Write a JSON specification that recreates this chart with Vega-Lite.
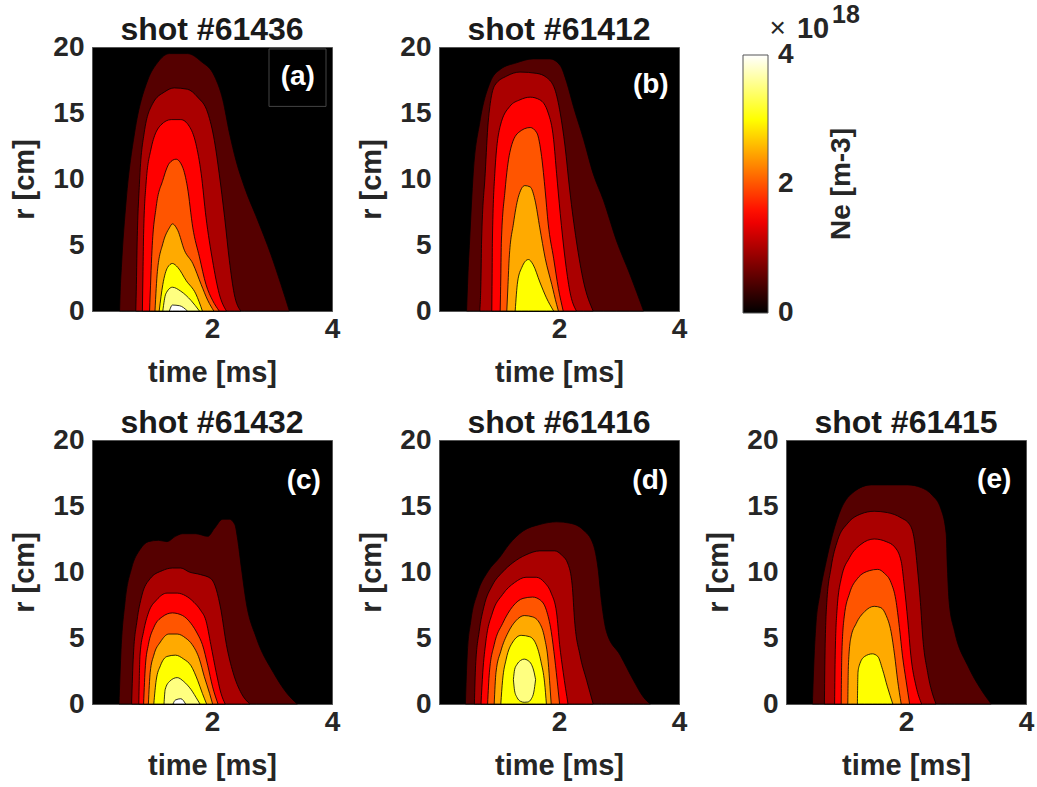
{
"$schema": "https://vega.github.io/schema/vega-lite/v6.json",
"background": "white",
"padding": {"left": 10, "top": 2, "right": 5, "bottom": 0},
"datasets": {
"a": [
{"level":0.5,"t":0.46,"r":0,"r0":0},{"level":0.5,"t":0.47,"r":1.5,"r0":0},{"level":0.5,"t":0.49,"r":3.3,"r0":0},{"level":0.5,"t":0.57,"r":8.4,"r0":0},{"level":0.5,"t":0.71,"r":13.5,"r0":0},{"level":0.5,"t":0.93,"r":17.5,"r0":0},{"level":0.5,"t":1.09,"r":18.8,"r0":0},{"level":0.5,"t":1.29,"r":19.5,"r0":0},{"level":0.5,"t":1.59,"r":19.5,"r0":0},{"level":0.5,"t":1.82,"r":18.9,"r0":0},{"level":0.5,"t":2.04,"r":17.8,"r0":0},{"level":0.5,"t":2.18,"r":16,"r0":0},{"level":0.5,"t":2.29,"r":13.5,"r0":0},{"level":0.5,"t":2.4,"r":11.4,"r0":0},{"level":0.5,"t":2.54,"r":9.4,"r0":0},{"level":0.5,"t":2.76,"r":6.9,"r0":0},{"level":0.5,"t":2.98,"r":4.3,"r0":0},{"level":0.5,"t":3.15,"r":2.0,"r0":0},{"level":0.5,"t":3.29,"r":0,"r0":0},
{"level":1.0,"t":0.73,"r":0,"r0":0},{"level":1.0,"t":0.74,"r":2,"r0":0},{"level":1.0,"t":0.75,"r":4.6,"r0":0},{"level":1.0,"t":0.79,"r":9.6,"r0":0},{"level":1.0,"t":0.87,"r":13.5,"r0":0},{"level":1.0,"t":1.01,"r":15.7,"r0":0},{"level":1.0,"t":1.21,"r":16.6,"r0":0},{"level":1.0,"t":1.37,"r":16.9,"r0":0},{"level":1.0,"t":1.59,"r":16.8,"r0":0},{"level":1.0,"t":1.76,"r":16.2,"r0":0},{"level":1.0,"t":1.93,"r":15.0,"r0":0},{"level":1.0,"t":2.04,"r":12.9,"r0":0},{"level":1.0,"t":2.12,"r":10.4,"r0":0},{"level":1.0,"t":2.21,"r":7.1,"r0":0},{"level":1.0,"t":2.29,"r":3.8,"r0":0},{"level":1.0,"t":2.37,"r":1.3,"r0":0},{"level":1.0,"t":2.48,"r":0,"r0":0},
{"level":1.5,"t":0.84,"r":0,"r0":0},{"level":1.5,"t":0.85,"r":3,"r0":0},{"level":1.5,"t":0.86,"r":5.8,"r0":0},{"level":1.5,"t":0.9,"r":9.6,"r0":0},{"level":1.5,"t":0.98,"r":12.2,"r0":0},{"level":1.5,"t":1.15,"r":14.1,"r0":0},{"level":1.5,"t":1.32,"r":14.5,"r0":0},{"level":1.5,"t":1.48,"r":14.5,"r0":0},{"level":1.5,"t":1.62,"r":14.0,"r0":0},{"level":1.5,"t":1.73,"r":12.7,"r0":0},{"level":1.5,"t":1.82,"r":10.4,"r0":0},{"level":1.5,"t":1.9,"r":7.1,"r0":0},{"level":1.5,"t":2.01,"r":3.8,"r0":0},{"level":1.5,"t":2.12,"r":1.3,"r0":0},{"level":1.5,"t":2.24,"r":0,"r0":0},
{"level":2.0,"t":0.96,"r":0,"r0":0},{"level":2.0,"t":0.98,"r":2.5,"r0":0},{"level":2.0,"t":1.0,"r":4.6,"r0":0},{"level":2.0,"t":1.07,"r":7.9,"r0":0},{"level":2.0,"t":1.18,"r":9.9,"r0":0},{"level":2.0,"t":1.29,"r":11.2,"r0":0},{"level":2.0,"t":1.4,"r":11.5,"r0":0},{"level":2.0,"t":1.51,"r":10.9,"r0":0},{"level":2.0,"t":1.59,"r":9.4,"r0":0},{"level":2.0,"t":1.68,"r":6.3,"r0":0},{"level":2.0,"t":1.79,"r":4.1,"r0":0},{"level":2.0,"t":1.9,"r":2.0,"r0":0},{"level":2.0,"t":2.01,"r":0.8,"r0":0},{"level":2.0,"t":2.12,"r":0,"r0":0},
{"level":2.5,"t":1.05,"r":0,"r0":0},{"level":2.5,"t":1.09,"r":3.0,"r0":0},{"level":2.5,"t":1.18,"r":5.1,"r0":0},{"level":2.5,"t":1.29,"r":6.3,"r0":0},{"level":2.5,"t":1.34,"r":6.6,"r0":0},{"level":2.5,"t":1.43,"r":6.1,"r0":0},{"level":2.5,"t":1.54,"r":4.6,"r0":0},{"level":2.5,"t":1.68,"r":3.6,"r0":0},{"level":2.5,"t":1.82,"r":2.0,"r0":0},{"level":2.5,"t":1.93,"r":0.8,"r0":0},{"level":2.5,"t":2.03,"r":0,"r0":0},
{"level":3.0,"t":1.12,"r":0,"r0":0},{"level":3.0,"t":1.18,"r":2.0,"r0":0},{"level":3.0,"t":1.26,"r":3.3,"r0":0},{"level":3.0,"t":1.34,"r":3.6,"r0":0},{"level":3.0,"t":1.43,"r":3.3,"r0":0},{"level":3.0,"t":1.57,"r":2.3,"r0":0},{"level":3.0,"t":1.73,"r":1.3,"r0":0},{"level":3.0,"t":1.84,"r":0,"r0":0},
{"level":3.5,"t":1.18,"r":0,"r0":0},{"level":3.5,"t":1.23,"r":1.3,"r0":0},{"level":3.5,"t":1.34,"r":1.8,"r0":0},{"level":3.5,"t":1.48,"r":1.5,"r0":0},{"level":3.5,"t":1.65,"r":0.8,"r0":0},{"level":3.5,"t":1.79,"r":0,"r0":0},
{"level":4.0,"t":1.29,"r":0,"r0":0},{"level":4.0,"t":1.34,"r":0.45,"r0":0},{"level":4.0,"t":1.46,"r":0.4,"r0":0},{"level":4.0,"t":1.59,"r":0,"r0":0}
],
"b": [
{"level":0.5,"t":0.46,"r":0,"r0":0},{"level":0.5,"t":0.48,"r":2.5,"r0":0},{"level":0.5,"t":0.51,"r":5.3,"r0":0},{"level":0.5,"t":0.57,"r":10.4,"r0":0},{"level":0.5,"t":0.68,"r":14.3,"r0":0},{"level":0.5,"t":0.85,"r":17.3,"r0":0},{"level":0.5,"t":1.02,"r":18.3,"r0":0},{"level":0.5,"t":1.29,"r":18.8,"r0":0},{"level":0.5,"t":1.57,"r":19.1,"r0":0},{"level":0.5,"t":1.85,"r":19.1,"r0":0},{"level":0.5,"t":2.02,"r":18.6,"r0":0},{"level":0.5,"t":2.13,"r":17.3,"r0":0},{"level":0.5,"t":2.24,"r":15.5,"r0":0},{"level":0.5,"t":2.41,"r":13.0,"r0":0},{"level":0.5,"t":2.57,"r":10.4,"r0":0},{"level":0.5,"t":2.74,"r":8.4,"r0":0},{"level":0.5,"t":2.96,"r":5.3,"r0":0},{"level":0.5,"t":3.18,"r":2.8,"r0":0},{"level":0.5,"t":3.41,"r":0,"r0":0},
{"level":1.0,"t":0.68,"r":0,"r0":0},{"level":1.0,"t":0.7,"r":2.5,"r0":0},{"level":1.0,"t":0.71,"r":5.3,"r0":0},{"level":1.0,"t":0.77,"r":10.4,"r0":0},{"level":1.0,"t":0.82,"r":14.3,"r0":0},{"level":1.0,"t":0.93,"r":17.1,"r0":0},{"level":1.0,"t":1.13,"r":17.8,"r0":0},{"level":1.0,"t":1.35,"r":18.1,"r0":0},{"level":1.0,"t":1.63,"r":18.0,"r0":0},{"level":1.0,"t":1.79,"r":17.7,"r0":0},{"level":1.0,"t":1.93,"r":16.8,"r0":0},{"level":1.0,"t":2.02,"r":15.0,"r0":0},{"level":1.0,"t":2.1,"r":12.5,"r0":0},{"level":1.0,"t":2.18,"r":9.1,"r0":0},{"level":1.0,"t":2.29,"r":5.3,"r0":0},{"level":1.0,"t":2.41,"r":2.2,"r0":0},{"level":1.0,"t":2.57,"r":0,"r0":0},
{"level":1.5,"t":0.88,"r":0,"r0":0},{"level":1.5,"t":0.885,"r":2.5,"r0":0},{"level":1.5,"t":0.89,"r":5.3,"r0":0},{"level":1.5,"t":0.93,"r":10.4,"r0":0},{"level":1.5,"t":1.02,"r":14.0,"r0":0},{"level":1.5,"t":1.18,"r":15.5,"r0":0},{"level":1.5,"t":1.35,"r":16.0,"r0":0},{"level":1.5,"t":1.52,"r":16.2,"r0":0},{"level":1.5,"t":1.68,"r":16.0,"r0":0},{"level":1.5,"t":1.82,"r":15.0,"r0":0},{"level":1.5,"t":1.91,"r":13.0,"r0":0},{"level":1.5,"t":1.96,"r":10.4,"r0":0},{"level":1.5,"t":2.02,"r":7.4,"r0":0},{"level":1.5,"t":2.1,"r":4.0,"r0":0},{"level":1.5,"t":2.18,"r":1.5,"r0":0},{"level":1.5,"t":2.29,"r":0,"r0":0},
{"level":2.0,"t":1.02,"r":0,"r0":0},{"level":2.0,"t":1.03,"r":2.5,"r0":0},{"level":2.0,"t":1.04,"r":5.3,"r0":0},{"level":2.0,"t":1.1,"r":9.1,"r0":0},{"level":2.0,"t":1.18,"r":12.0,"r0":0},{"level":2.0,"t":1.32,"r":13.5,"r0":0},{"level":2.0,"t":1.52,"r":13.9,"r0":0},{"level":2.0,"t":1.63,"r":13.5,"r0":0},{"level":2.0,"t":1.71,"r":11.7,"r0":0},{"level":2.0,"t":1.77,"r":9.1,"r0":0},{"level":2.0,"t":1.82,"r":6.6,"r0":0},{"level":2.0,"t":1.91,"r":4.0,"r0":0},{"level":2.0,"t":1.99,"r":1.7,"r0":0},{"level":2.0,"t":2.07,"r":0,"r0":0},
{"level":2.5,"t":1.13,"r":0,"r0":0},{"level":2.5,"t":1.15,"r":2,"r0":0},{"level":2.5,"t":1.17,"r":4.0,"r0":0},{"level":2.5,"t":1.24,"r":6.6,"r0":0},{"level":2.5,"t":1.32,"r":8.6,"r0":0},{"level":2.5,"t":1.43,"r":9.5,"r0":0},{"level":2.5,"t":1.52,"r":9.4,"r0":0},{"level":2.5,"t":1.6,"r":8.4,"r0":0},{"level":2.5,"t":1.68,"r":6.3,"r0":0},{"level":2.5,"t":1.77,"r":4.0,"r0":0},{"level":2.5,"t":1.88,"r":2.0,"r0":0},{"level":2.5,"t":1.96,"r":0.5,"r0":0},{"level":2.5,"t":1.99,"r":0,"r0":0},
{"level":3.0,"t":1.27,"r":0,"r0":0},{"level":3.0,"t":1.31,"r":2.2,"r0":0},{"level":3.0,"t":1.38,"r":3.3,"r0":0},{"level":3.0,"t":1.49,"r":3.9,"r0":0},{"level":3.0,"t":1.57,"r":3.5,"r0":0},{"level":3.0,"t":1.68,"r":2.2,"r0":0},{"level":3.0,"t":1.79,"r":1.0,"r0":0},{"level":3.0,"t":1.91,"r":0,"r0":0}
],
"c": [
{"level":0.5,"t":0.45,"r":0,"r0":0},{"level":0.5,"t":0.48,"r":3.7,"r0":0},{"level":0.5,"t":0.55,"r":7.7,"r0":0},{"level":0.5,"t":0.66,"r":10.3,"r0":0},{"level":0.5,"t":0.8,"r":11.7,"r0":0},{"level":0.5,"t":0.94,"r":12.3,"r0":0},{"level":0.5,"t":1.11,"r":12.4,"r0":0},{"level":0.5,"t":1.25,"r":12.3,"r0":0},{"level":0.5,"t":1.39,"r":12.7,"r0":0},{"level":0.5,"t":1.51,"r":12.9,"r0":0},{"level":0.5,"t":1.73,"r":12.9,"r0":0},{"level":0.5,"t":1.93,"r":12.7,"r0":0},{"level":0.5,"t":2.04,"r":13.3,"r0":0},{"level":0.5,"t":2.18,"r":14.0,"r0":0},{"level":0.5,"t":2.29,"r":14.0,"r0":0},{"level":0.5,"t":2.38,"r":13.6,"r0":0},{"level":0.5,"t":2.43,"r":12.4,"r0":0},{"level":0.5,"t":2.49,"r":10.3,"r0":0},{"level":0.5,"t":2.57,"r":7.7,"r0":0},{"level":0.5,"t":2.74,"r":5.0,"r0":0},{"level":0.5,"t":3.02,"r":2.4,"r0":0},{"level":0.5,"t":3.25,"r":0.8,"r0":0},{"level":0.5,"t":3.42,"r":0,"r0":0},
{"level":1.0,"t":0.66,"r":0,"r0":0},{"level":1.0,"t":0.69,"r":3.7,"r0":0},{"level":1.0,"t":0.75,"r":6.3,"r0":0},{"level":1.0,"t":0.83,"r":8.2,"r0":0},{"level":1.0,"t":0.97,"r":9.5,"r0":0},{"level":1.0,"t":1.17,"r":10.1,"r0":0},{"level":1.0,"t":1.34,"r":10.3,"r0":0},{"level":1.0,"t":1.48,"r":10.3,"r0":0},{"level":1.0,"t":1.62,"r":10.0,"r0":0},{"level":1.0,"t":1.81,"r":9.8,"r0":0},{"level":1.0,"t":1.98,"r":9.5,"r0":0},{"level":1.0,"t":2.07,"r":8.7,"r0":0},{"level":1.0,"t":2.15,"r":7.1,"r0":0},{"level":1.0,"t":2.24,"r":4.5,"r0":0},{"level":1.0,"t":2.35,"r":2.4,"r0":0},{"level":1.0,"t":2.49,"r":0.8,"r0":0},{"level":1.0,"t":2.63,"r":0,"r0":0},
{"level":1.5,"t":0.78,"r":0,"r0":0},{"level":1.5,"t":0.8,"r":3.7,"r0":0},{"level":1.5,"t":0.86,"r":5.5,"r0":0},{"level":1.5,"t":0.94,"r":6.9,"r0":0},{"level":1.5,"t":1.08,"r":7.9,"r0":0},{"level":1.5,"t":1.25,"r":8.4,"r0":0},{"level":1.5,"t":1.42,"r":8.4,"r0":0},{"level":1.5,"t":1.56,"r":8.2,"r0":0},{"level":1.5,"t":1.7,"r":7.7,"r0":0},{"level":1.5,"t":1.81,"r":7.1,"r0":0},{"level":1.5,"t":1.9,"r":6.3,"r0":0},{"level":1.5,"t":1.98,"r":4.5,"r0":0},{"level":1.5,"t":2.07,"r":2.4,"r0":0},{"level":1.5,"t":2.15,"r":0.8,"r0":0},{"level":1.5,"t":2.22,"r":0,"r0":0},
{"level":2.0,"t":0.86,"r":0,"r0":0},{"level":2.0,"t":0.89,"r":2.9,"r0":0},{"level":2.0,"t":0.94,"r":4.5,"r0":0},{"level":2.0,"t":1.03,"r":5.8,"r0":0},{"level":2.0,"t":1.17,"r":6.6,"r0":0},{"level":2.0,"t":1.34,"r":6.9,"r0":0},{"level":2.0,"t":1.51,"r":6.7,"r0":0},{"level":2.0,"t":1.65,"r":6.1,"r0":0},{"level":2.0,"t":1.76,"r":5.3,"r0":0},{"level":2.0,"t":1.84,"r":4.5,"r0":0},{"level":2.0,"t":1.93,"r":2.9,"r0":0},{"level":2.0,"t":2.01,"r":1.3,"r0":0},{"level":2.0,"t":2.1,"r":0,"r0":0},
{"level":2.5,"t":0.94,"r":0,"r0":0},{"level":2.5,"t":0.97,"r":2.4,"r0":0},{"level":2.5,"t":1.03,"r":3.7,"r0":0},{"level":2.5,"t":1.14,"r":4.7,"r0":0},{"level":2.5,"t":1.28,"r":5.3,"r0":0},{"level":2.5,"t":1.42,"r":5.3,"r0":0},{"level":2.5,"t":1.56,"r":5.0,"r0":0},{"level":2.5,"t":1.67,"r":4.5,"r0":0},{"level":2.5,"t":1.79,"r":3.4,"r0":0},{"level":2.5,"t":1.87,"r":2.1,"r0":0},{"level":2.5,"t":1.96,"r":0.8,"r0":0},{"level":2.5,"t":2.01,"r":0,"r0":0},
{"level":3.0,"t":1.03,"r":0,"r0":0},{"level":3.0,"t":1.07,"r":1.8,"r0":0},{"level":3.0,"t":1.14,"r":2.9,"r0":0},{"level":3.0,"t":1.25,"r":3.6,"r0":0},{"level":3.0,"t":1.39,"r":3.7,"r0":0},{"level":3.0,"t":1.53,"r":3.4,"r0":0},{"level":3.0,"t":1.65,"r":2.9,"r0":0},{"level":3.0,"t":1.76,"r":1.8,"r0":0},{"level":3.0,"t":1.84,"r":0.8,"r0":0},{"level":3.0,"t":1.91,"r":0,"r0":0},
{"level":3.5,"t":1.2,"r":0,"r0":0},{"level":3.5,"t":1.22,"r":1.1,"r0":0},{"level":3.5,"t":1.29,"r":1.7,"r0":0},{"level":3.5,"t":1.42,"r":2.0,"r0":0},{"level":3.5,"t":1.53,"r":1.7,"r0":0},{"level":3.5,"t":1.65,"r":1.1,"r0":0},{"level":3.5,"t":1.76,"r":0.3,"r0":0},{"level":3.5,"t":1.8,"r":0,"r0":0},
{"level":4.0,"t":1.35,"r":0,"r0":0},{"level":4.0,"t":1.39,"r":0.3,"r0":0},{"level":4.0,"t":1.48,"r":0.4,"r0":0},{"level":4.0,"t":1.56,"r":0,"r0":0}
],
"d": [
{"level":0.5,"t":0.44,"r":0,"r0":0},{"level":0.5,"t":0.47,"r":3.7,"r0":0},{"level":0.5,"t":0.53,"r":6.3,"r0":0},{"level":0.5,"t":0.64,"r":8.4,"r0":0},{"level":0.5,"t":0.81,"r":10.0,"r0":0},{"level":0.5,"t":1.01,"r":11.1,"r0":0},{"level":0.5,"t":1.17,"r":12.1,"r0":0},{"level":0.5,"t":1.4,"r":13.1,"r0":0},{"level":0.5,"t":1.68,"r":13.6,"r0":0},{"level":0.5,"t":1.96,"r":13.8,"r0":0},{"level":0.5,"t":2.18,"r":13.7,"r0":0},{"level":0.5,"t":2.4,"r":13.2,"r0":0},{"level":0.5,"t":2.57,"r":12.1,"r0":0},{"level":0.5,"t":2.65,"r":10.3,"r0":0},{"level":0.5,"t":2.71,"r":7.7,"r0":0},{"level":0.5,"t":2.79,"r":5.5,"r0":0},{"level":0.5,"t":3.02,"r":3.7,"r0":0},{"level":0.5,"t":3.24,"r":1.8,"r0":0},{"level":0.5,"t":3.41,"r":0.5,"r0":0},{"level":0.5,"t":3.52,"r":0,"r0":0},
{"level":1.0,"t":0.59,"r":0,"r0":0},{"level":1.0,"t":0.61,"r":2.9,"r0":0},{"level":1.0,"t":0.67,"r":5.5,"r0":0},{"level":1.0,"t":0.75,"r":7.4,"r0":0},{"level":1.0,"t":0.89,"r":9.0,"r0":0},{"level":1.0,"t":1.06,"r":10.0,"r0":0},{"level":1.0,"t":1.23,"r":10.7,"r0":0},{"level":1.0,"t":1.45,"r":11.3,"r0":0},{"level":1.0,"t":1.68,"r":11.6,"r0":0},{"level":1.0,"t":1.93,"r":11.6,"r0":0},{"level":1.0,"t":2.04,"r":11.3,"r0":0},{"level":1.0,"t":2.15,"r":10.6,"r0":0},{"level":1.0,"t":2.22,"r":9.0,"r0":0},{"level":1.0,"t":2.26,"r":6.3,"r0":0},{"level":1.0,"t":2.35,"r":3.7,"r0":0},{"level":1.0,"t":2.46,"r":1.8,"r0":0},{"level":1.0,"t":2.57,"r":0,"r0":0},
{"level":1.5,"t":0.7,"r":0,"r0":0},{"level":1.5,"t":0.73,"r":2.4,"r0":0},{"level":1.5,"t":0.78,"r":4.7,"r0":0},{"level":1.5,"t":0.89,"r":6.9,"r0":0},{"level":1.5,"t":1.06,"r":8.3,"r0":0},{"level":1.5,"t":1.26,"r":9.2,"r0":0},{"level":1.5,"t":1.45,"r":9.6,"r0":0},{"level":1.5,"t":1.62,"r":9.6,"r0":0},{"level":1.5,"t":1.76,"r":9.2,"r0":0},{"level":1.5,"t":1.87,"r":8.4,"r0":0},{"level":1.5,"t":1.96,"r":6.9,"r0":0},{"level":1.5,"t":2.01,"r":4.5,"r0":0},{"level":1.5,"t":2.07,"r":2.4,"r0":0},{"level":1.5,"t":2.15,"r":0,"r0":0},
{"level":2.0,"t":0.81,"r":0,"r0":0},{"level":2.0,"t":0.84,"r":2.4,"r0":0},{"level":2.0,"t":0.92,"r":4.5,"r0":0},{"level":2.0,"t":1.06,"r":6.1,"r0":0},{"level":2.0,"t":1.23,"r":7.4,"r0":0},{"level":2.0,"t":1.4,"r":8.0,"r0":0},{"level":2.0,"t":1.56,"r":8.1,"r0":0},{"level":2.0,"t":1.68,"r":7.9,"r0":0},{"level":2.0,"t":1.79,"r":7.1,"r0":0},{"level":2.0,"t":1.87,"r":5.5,"r0":0},{"level":2.0,"t":1.93,"r":3.4,"r0":0},{"level":2.0,"t":1.98,"r":1.3,"r0":0},{"level":2.0,"t":2.01,"r":0,"r0":0},
{"level":2.5,"t":0.92,"r":0,"r0":0},{"level":2.5,"t":0.95,"r":2.4,"r0":0},{"level":2.5,"t":1.03,"r":4.0,"r0":0},{"level":2.5,"t":1.15,"r":5.4,"r0":0},{"level":2.5,"t":1.28,"r":6.3,"r0":0},{"level":2.5,"t":1.42,"r":6.7,"r0":0},{"level":2.5,"t":1.56,"r":6.6,"r0":0},{"level":2.5,"t":1.68,"r":6.1,"r0":0},{"level":2.5,"t":1.76,"r":5.0,"r0":0},{"level":2.5,"t":1.82,"r":3.2,"r0":0},{"level":2.5,"t":1.85,"r":1.3,"r0":0},{"level":2.5,"t":1.87,"r":0,"r0":0},
{"level":3.0,"t":1.03,"r":0,"r0":0},{"level":3.0,"t":1.06,"r":1.8,"r0":0},{"level":3.0,"t":1.12,"r":3.4,"r0":0},{"level":3.0,"t":1.23,"r":4.7,"r0":0},{"level":3.0,"t":1.37,"r":5.2,"r0":0},{"level":3.0,"t":1.51,"r":5.1,"r0":0},{"level":3.0,"t":1.62,"r":4.5,"r0":0},{"level":3.0,"t":1.7,"r":3.2,"r0":0},{"level":3.0,"t":1.76,"r":1.6,"r0":0},{"level":3.0,"t":1.79,"r":0,"r0":0},
{"level":3.5,"t":1.24,"r":1.85,"r0":1.85},{"level":3.5,"t":1.26,"r":2.6,"r0":1.0},{"level":3.5,"t":1.3,"r":3.0,"r0":0.5},{"level":3.5,"t":1.36,"r":3.3,"r0":0.2},{"level":3.5,"t":1.42,"r":3.4,"r0":0.13},{"level":3.5,"t":1.48,"r":3.3,"r0":0.15},{"level":3.5,"t":1.54,"r":3.0,"r0":0.4},{"level":3.5,"t":1.58,"r":2.5,"r0":0.9},{"level":3.5,"t":1.61,"r":1.85,"r0":1.85}
],
"e": [
{"level":0.5,"t":0.44,"r":0,"r0":0},{"level":0.5,"t":0.47,"r":3.7,"r0":0},{"level":0.5,"t":0.5,"r":6.1,"r0":0},{"level":0.5,"t":0.56,"r":8.2,"r0":0},{"level":0.5,"t":0.67,"r":10.8,"r0":0},{"level":0.5,"t":0.78,"r":12.9,"r0":0},{"level":0.5,"t":0.92,"r":14.8,"r0":0},{"level":0.5,"t":1.14,"r":16.1,"r0":0},{"level":0.5,"t":1.42,"r":16.6,"r0":0},{"level":0.5,"t":1.69,"r":16.6,"r0":0},{"level":0.5,"t":2.03,"r":16.6,"r0":0},{"level":0.5,"t":2.25,"r":16.4,"r0":0},{"level":0.5,"t":2.44,"r":15.8,"r0":0},{"level":0.5,"t":2.58,"r":14.8,"r0":0},{"level":0.5,"t":2.67,"r":12.9,"r0":0},{"level":0.5,"t":2.69,"r":10.3,"r0":0},{"level":0.5,"t":2.72,"r":7.7,"r0":0},{"level":0.5,"t":2.81,"r":5.5,"r0":0},{"level":0.5,"t":3.03,"r":2.9,"r0":0},{"level":0.5,"t":3.25,"r":1.1,"r0":0},{"level":0.5,"t":3.42,"r":0,"r0":0},
{"level":1.0,"t":0.64,"r":0,"r0":0},{"level":1.0,"t":0.65,"r":3.7,"r0":0},{"level":1.0,"t":0.68,"r":7.7,"r0":0},{"level":1.0,"t":0.75,"r":10.3,"r0":0},{"level":1.0,"t":0.86,"r":12.4,"r0":0},{"level":1.0,"t":1.03,"r":13.7,"r0":0},{"level":1.0,"t":1.25,"r":14.4,"r0":0},{"level":1.0,"t":1.47,"r":14.6,"r0":0},{"level":1.0,"t":1.69,"r":14.5,"r0":0},{"level":1.0,"t":1.92,"r":14.1,"r0":0},{"level":1.0,"t":2.06,"r":13.6,"r0":0},{"level":1.0,"t":2.14,"r":12.4,"r0":0},{"level":1.0,"t":2.19,"r":10.3,"r0":0},{"level":1.0,"t":2.24,"r":7.7,"r0":0},{"level":1.0,"t":2.28,"r":5.0,"r0":0},{"level":1.0,"t":2.36,"r":2.4,"r0":0},{"level":1.0,"t":2.5,"r":0,"r0":0},
{"level":1.5,"t":0.81,"r":0,"r0":0},{"level":1.5,"t":0.82,"r":3.7,"r0":0},{"level":1.5,"t":0.85,"r":7.1,"r0":0},{"level":1.5,"t":0.92,"r":9.5,"r0":0},{"level":1.5,"t":1.06,"r":11.1,"r0":0},{"level":1.5,"t":1.25,"r":12.1,"r0":0},{"level":1.5,"t":1.47,"r":12.5,"r0":0},{"level":1.5,"t":1.67,"r":12.3,"r0":0},{"level":1.5,"t":1.81,"r":11.9,"r0":0},{"level":1.5,"t":1.92,"r":10.8,"r0":0},{"level":1.5,"t":1.97,"r":9.0,"r0":0},{"level":1.5,"t":2.03,"r":6.3,"r0":0},{"level":1.5,"t":2.08,"r":3.7,"r0":0},{"level":1.5,"t":2.17,"r":1.3,"r0":0},{"level":1.5,"t":2.26,"r":0,"r0":0},
{"level":2.0,"t":0.92,"r":0,"r0":0},{"level":2.0,"t":0.93,"r":3.7,"r0":0},{"level":2.0,"t":0.97,"r":6.6,"r0":0},{"level":2.0,"t":1.06,"r":8.4,"r0":0},{"level":2.0,"t":1.19,"r":9.5,"r0":0},{"level":2.0,"t":1.39,"r":10.1,"r0":0},{"level":2.0,"t":1.53,"r":10.2,"r0":0},{"level":2.0,"t":1.64,"r":9.9,"r0":0},{"level":2.0,"t":1.75,"r":9.2,"r0":0},{"level":2.0,"t":1.83,"r":7.9,"r0":0},{"level":2.0,"t":1.89,"r":5.8,"r0":0},{"level":2.0,"t":1.94,"r":3.7,"r0":0},{"level":2.0,"t":2.0,"r":1.8,"r0":0},{"level":2.0,"t":2.06,"r":0,"r0":0},
{"level":2.5,"t":1.03,"r":0,"r0":0},{"level":2.5,"t":1.04,"r":2.9,"r0":0},{"level":2.5,"t":1.08,"r":5.0,"r0":0},{"level":2.5,"t":1.17,"r":6.1,"r0":0},{"level":2.5,"t":1.31,"r":7.0,"r0":0},{"level":2.5,"t":1.47,"r":7.4,"r0":0},{"level":2.5,"t":1.58,"r":7.3,"r0":0},{"level":2.5,"t":1.67,"r":6.7,"r0":0},{"level":2.5,"t":1.75,"r":5.5,"r0":0},{"level":2.5,"t":1.81,"r":3.7,"r0":0},{"level":2.5,"t":1.86,"r":1.8,"r0":0},{"level":2.5,"t":1.92,"r":0,"r0":0},
{"level":3.0,"t":1.19,"r":0,"r0":0},{"level":3.0,"t":1.2,"r":2.4,"r0":0},{"level":3.0,"t":1.22,"r":2.9,"r0":0},{"level":3.0,"t":1.31,"r":3.6,"r0":0},{"level":3.0,"t":1.44,"r":3.8,"r0":0},{"level":3.0,"t":1.53,"r":3.6,"r0":0},{"level":3.0,"t":1.61,"r":2.6,"r0":0},{"level":3.0,"t":1.69,"r":1.3,"r0":0},{"level":3.0,"t":1.78,"r":0,"r0":0}
]
},
"columns": 3,
"spacing": {"row": 129, "column": 107},
"bounds": "flush",
"concat": [
{"width": 240, "height": 264, "title": "shot #61436",
 "layer": [
  {"data": {"name": "a"}, "mark": {"type": "area", "interpolate": "monotone", "stroke": "black", "strokeWidth": 0.8},
   "encoding": {
    "x": {"field": "t", "type": "quantitative", "scale": {"domain": [0, 4]}, "axis": {"values": [2, 4], "format": "~g", "title": "time [ms]"}},
    "y": {"field": "r", "type": "quantitative", "stack": null, "scale": {"domain": [0, 20]}, "axis": {"values": [0, 5, 10, 15, 20], "title": "r [cm]"}},
    "y2": {"field": "r0"},
    "detail": {"field": "level", "type": "nominal"},
    "color": {"field": "level", "type": "quantitative", "title": "Ne [m-3]",
      "scale": {"domain": [0, 1.5, 3, 4], "range": ["#000000", "#ff0000", "#ffff00", "#ffffff"], "interpolate": "rgb"},
      "legend": {"orient": "none", "legendX": 651, "legendY": 8, "direction": "vertical", "gradientLength": 258, "gradientThickness": 25, "gradientStrokeColor": "#555", "gradientStrokeWidth": 1, "values": [0, 2, 4], "labelFont": "Liberation Sans", "labelFontSize": 28, "labelFontWeight": "bold", "labelColor": "#262626", "labelOffset": 10, "titleOrient": "right", "titleFont": "Liberation Sans", "titleFontSize": 28, "titleFontWeight": "bold", "titleColor": "#262626", "titleAnchor": "middle", "titlePadding": 34, "padding": 0,
        "encode": {"labels": {"update": {"baseline": {"value": "middle"}}}, "title": {"update": {"angle": {"value": 270}, "baseline": {"value": "top"}}}}}}
   }},
  {"data": {"values": [{"t0": 2.95, "t1": 3.9, "r0": 15.5, "r1": 19.85}]}, "mark": {"type": "rect", "fill": "black", "stroke": "#444", "strokeWidth": 1},
   "encoding": {"x": {"field": "t0", "type": "quantitative", "scale": {"domain": [0, 4]}}, "x2": {"field": "t1"}, "y": {"field": "r0", "type": "quantitative", "scale": {"domain": [0, 20]}}, "y2": {"field": "r1"}}},
  {"data": {"values": [{"lab": "(a)", "t": 3.43, "r": 17.7}]}, "mark": {"type": "text", "color": "white", "font": "Liberation Sans", "fontWeight": "bold", "fontSize": 28},
   "encoding": {"x": {"field": "t", "type": "quantitative", "scale": {"domain": [0, 4]}}, "y": {"field": "r", "type": "quantitative", "scale": {"domain": [0, 20]}}, "text": {"field": "lab"}}}
 ]},
{"width": 240, "height": 264, "title": "shot #61412",
 "layer": [
  {"data": {"name": "b"}, "mark": {"type": "area", "interpolate": "monotone", "stroke": "black", "strokeWidth": 0.8},
   "encoding": {
    "x": {"field": "t", "type": "quantitative", "scale": {"domain": [0, 4]}, "axis": {"values": [2, 4], "format": "~g", "title": "time [ms]"}},
    "y": {"field": "r", "type": "quantitative", "stack": null, "scale": {"domain": [0, 20]}, "axis": {"values": [0, 5, 10, 15, 20], "title": "r [cm]"}},
    "y2": {"field": "r0"},
    "detail": {"field": "level", "type": "nominal"},
    "color": {"field": "level", "type": "quantitative", "title": "Ne [m-3]", "scale": {"domain": [0, 1.5, 3, 4], "range": ["#000000", "#ff0000", "#ffff00", "#ffffff"], "interpolate": "rgb"}, "legend": null}
   }},
  {"data": {"values": [{"lab": "(b)", "t": 3.53, "r": 17.1}]}, "mark": {"type": "text", "color": "white", "font": "Liberation Sans", "fontWeight": "bold", "fontSize": 28},
   "encoding": {"x": {"field": "t", "type": "quantitative", "scale": {"domain": [0, 4]}}, "y": {"field": "r", "type": "quantitative", "scale": {"domain": [0, 20]}}, "text": {"field": "lab"}}}
 ]},
{"width": 240, "height": 264, "view": {"fill": null, "stroke": null},
 "layer": [
  {"data": {"values": [{"lab": "×", "t": -0.14, "r": 21.35}]}, "mark": {"type": "text", "color": "#262626", "font": "Liberation Sans", "fontWeight": "normal", "fontSize": 28},
   "encoding": {"x": {"field": "t", "type": "quantitative", "scale": {"domain": [0, 4]}, "axis": null}, "y": {"field": "r", "type": "quantitative", "scale": {"domain": [0, 20]}, "axis": null}, "text": {"field": "lab"}}},
  {"data": {"values": [{"lab": "10", "t": 0.45, "r": 21.4}]}, "mark": {"type": "text", "color": "#262626", "font": "Liberation Sans", "fontWeight": "bold", "fontSize": 29},
   "encoding": {"x": {"field": "t", "type": "quantitative", "scale": {"domain": [0, 4]}, "axis": null}, "y": {"field": "r", "type": "quantitative", "scale": {"domain": [0, 20]}, "axis": null}, "text": {"field": "lab"}}},
  {"data": {"values": [{"lab": "18", "t": 1.0, "r": 22.45}]}, "mark": {"type": "text", "color": "#262626", "font": "Liberation Sans", "fontWeight": "bold", "fontSize": 25},
   "encoding": {"x": {"field": "t", "type": "quantitative", "scale": {"domain": [0, 4]}, "axis": null}, "y": {"field": "r", "type": "quantitative", "scale": {"domain": [0, 20]}, "axis": null}, "text": {"field": "lab"}}}
 ]},
{"width": 240, "height": 264, "title": "shot #61432",
 "layer": [
  {"data": {"name": "c"}, "mark": {"type": "area", "interpolate": "monotone", "stroke": "black", "strokeWidth": 0.8},
   "encoding": {
    "x": {"field": "t", "type": "quantitative", "scale": {"domain": [0, 4]}, "axis": {"values": [2, 4], "format": "~g", "title": "time [ms]"}},
    "y": {"field": "r", "type": "quantitative", "stack": null, "scale": {"domain": [0, 20]}, "axis": {"values": [0, 5, 10, 15, 20], "title": "r [cm]"}},
    "y2": {"field": "r0"},
    "detail": {"field": "level", "type": "nominal"},
    "color": {"field": "level", "type": "quantitative", "title": "Ne [m-3]", "scale": {"domain": [0, 1.5, 3, 4], "range": ["#000000", "#ff0000", "#ffff00", "#ffffff"], "interpolate": "rgb"}, "legend": null}
   }},
  {"data": {"values": [{"lab": "(c)", "t": 3.53, "r": 16.9}]}, "mark": {"type": "text", "color": "white", "font": "Liberation Sans", "fontWeight": "bold", "fontSize": 28},
   "encoding": {"x": {"field": "t", "type": "quantitative", "scale": {"domain": [0, 4]}}, "y": {"field": "r", "type": "quantitative", "scale": {"domain": [0, 20]}}, "text": {"field": "lab"}}}
 ]},
{"width": 240, "height": 264, "title": "shot #61416",
 "layer": [
  {"data": {"name": "d"}, "mark": {"type": "area", "interpolate": "monotone", "stroke": "black", "strokeWidth": 0.8},
   "encoding": {
    "x": {"field": "t", "type": "quantitative", "scale": {"domain": [0, 4]}, "axis": {"values": [2, 4], "format": "~g", "title": "time [ms]"}},
    "y": {"field": "r", "type": "quantitative", "stack": null, "scale": {"domain": [0, 20]}, "axis": {"values": [0, 5, 10, 15, 20], "title": "r [cm]"}},
    "y2": {"field": "r0"},
    "detail": {"field": "level", "type": "nominal"},
    "color": {"field": "level", "type": "quantitative", "title": "Ne [m-3]", "scale": {"domain": [0, 1.5, 3, 4], "range": ["#000000", "#ff0000", "#ffff00", "#ffffff"], "interpolate": "rgb"}, "legend": null}
   }},
  {"data": {"values": [{"lab": "(d)", "t": 3.52, "r": 16.9}]}, "mark": {"type": "text", "color": "white", "font": "Liberation Sans", "fontWeight": "bold", "fontSize": 28},
   "encoding": {"x": {"field": "t", "type": "quantitative", "scale": {"domain": [0, 4]}}, "y": {"field": "r", "type": "quantitative", "scale": {"domain": [0, 20]}}, "text": {"field": "lab"}}}
 ]},
{"width": 240, "height": 264, "title": "shot #61415",
 "layer": [
  {"data": {"name": "e"}, "mark": {"type": "area", "interpolate": "monotone", "stroke": "black", "strokeWidth": 0.8},
   "encoding": {
    "x": {"field": "t", "type": "quantitative", "scale": {"domain": [0, 4]}, "axis": {"values": [2, 4], "format": "~g", "title": "time [ms]"}},
    "y": {"field": "r", "type": "quantitative", "stack": null, "scale": {"domain": [0, 20]}, "axis": {"values": [0, 5, 10, 15, 20], "title": "r [cm]"}},
    "y2": {"field": "r0"},
    "detail": {"field": "level", "type": "nominal"},
    "color": {"field": "level", "type": "quantitative", "title": "Ne [m-3]", "scale": {"domain": [0, 1.5, 3, 4], "range": ["#000000", "#ff0000", "#ffff00", "#ffffff"], "interpolate": "rgb"}, "legend": null}
   }},
  {"data": {"values": [{"lab": "(e)", "t": 3.47, "r": 17.0}]}, "mark": {"type": "text", "color": "white", "font": "Liberation Sans", "fontWeight": "bold", "fontSize": 28},
   "encoding": {"x": {"field": "t", "type": "quantitative", "scale": {"domain": [0, 4]}}, "y": {"field": "r", "type": "quantitative", "scale": {"domain": [0, 20]}}, "text": {"field": "lab"}}}
 ]}
],
"config": {
 "font": "Liberation Sans",
 "view": {"fill": "black", "stroke": "#555", "strokeWidth": 1},
 "axis": {"labelFont": "Liberation Sans", "labelFontSize": 28, "labelFontWeight": "bold", "labelColor": "#262626", "titleFont": "Liberation Sans", "titleFontSize": 29, "titleFontWeight": "bold", "titleColor": "#262626", "grid": false, "ticks": false, "domain": true, "domainColor": "#555", "zindex": 1, "labelFlush": false},
 "axisX": {"labelPadding": 4, "titlePadding": 15},
 "axisY": {"labelPadding": 8, "titlePadding": 13},
 "title": {"font": "Liberation Sans", "fontSize": 32, "fontWeight": "bold", "color": "#1a1a1a", "frame": "group", "offset": -14}
}
}
